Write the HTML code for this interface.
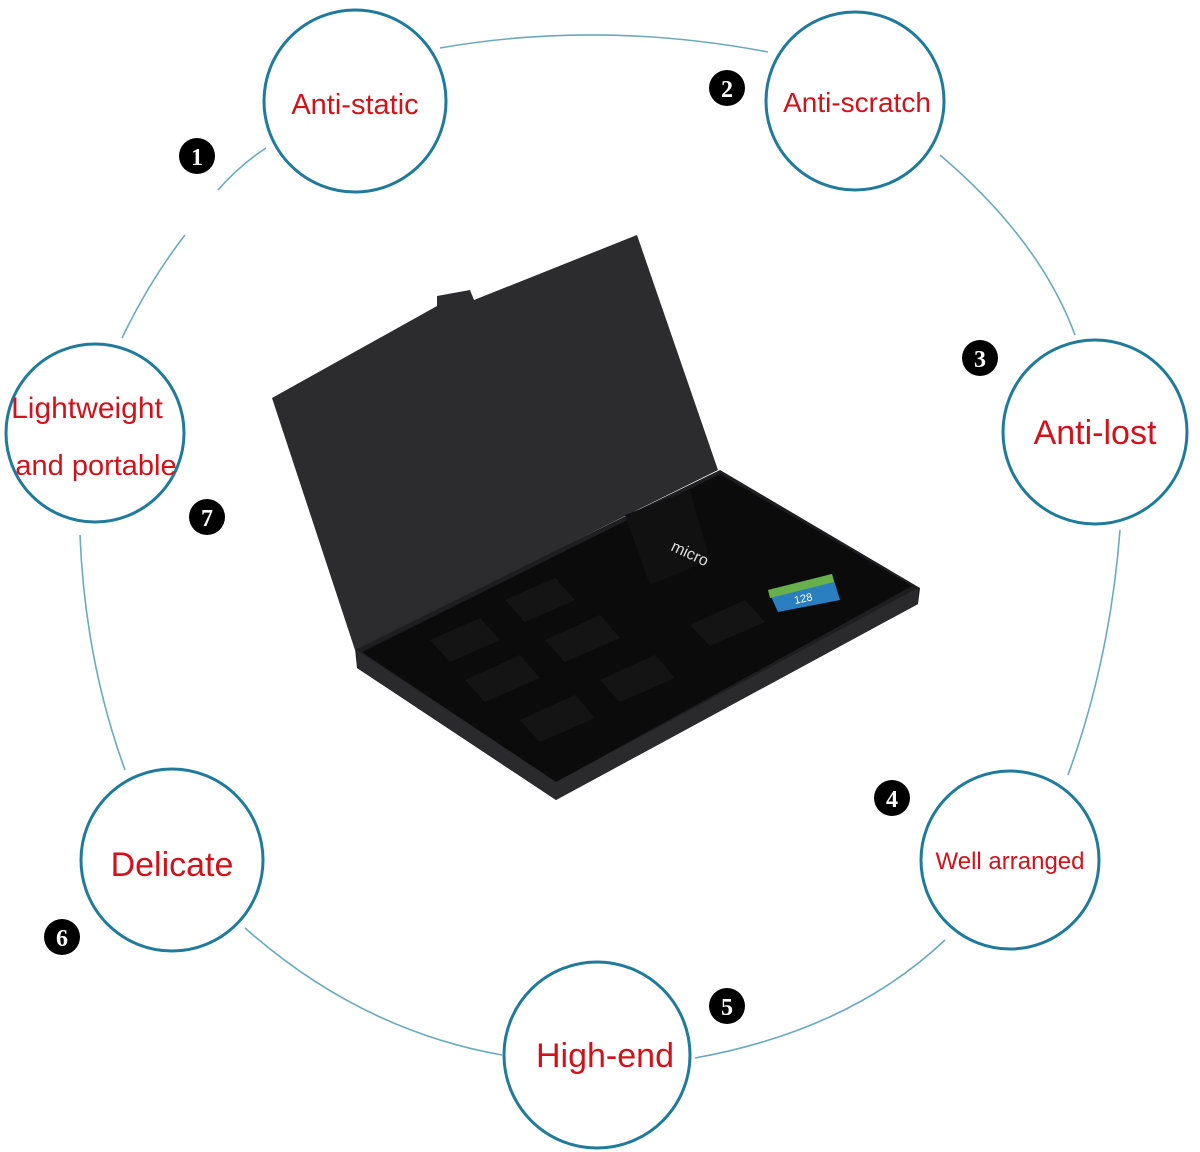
<!DOCTYPE html>
<html><head><style>
html,body{margin:0;padding:0;background:#fff;}
svg{display:block}
text{font-family:"Liberation Sans",sans-serif}
</style></head><body>
<svg width="1200" height="1152" viewBox="0 0 1200 1152" xmlns="http://www.w3.org/2000/svg">
<g fill="none" stroke="#6aaac0" stroke-width="1.6">
<path d="M440,48 Q600,20 768,52"/>
<path d="M940,155 Q1040,240 1075,335"/>
<path d="M1120,530 Q1110,660 1068,775"/>
<path d="M945,940 Q850,1030 695,1058"/>
<path d="M502,1055 Q360,1030 245,928"/>
<path d="M125,770 Q85,660 80,535"/>
<path d="M122,338 Q150,280 185,235"/>
<path d="M218,190 Q240,165 266,148"/>
</g>
<g fill="#fff" stroke="#1f7a9c" stroke-width="3">
<circle cx="355" cy="101" r="91"/>
<circle cx="855" cy="101" r="89"/>
<circle cx="1095" cy="432" r="92"/>
<circle cx="1010" cy="860" r="89"/>
<circle cx="597" cy="1055" r="93"/>
<circle cx="172" cy="860" r="91"/>
<circle cx="95" cy="433" r="89"/>
</g>
<g fill="#d0121b" text-anchor="middle">
<text x="355" y="114" font-size="29">Anti-static</text>
<text x="857" y="112" font-size="28">Anti-scratch</text>
<text x="1095" y="444" font-size="34">Anti-lost</text>
<text x="1010" y="869" font-size="24">Well arranged</text>
<text x="605" y="1067" font-size="34">High-end</text>
<text x="172" y="876" font-size="34">Delicate</text>
<text x="87" y="418" font-size="30">Lightweight</text>
<text x="96" y="475" font-size="29">and portable</text>
</g>
<g>
<circle cx="197" cy="156" r="18" fill="#000"/>
<circle cx="727" cy="88" r="18" fill="#000"/>
<circle cx="980" cy="358" r="18" fill="#000"/>
<circle cx="892" cy="798" r="18" fill="#000"/>
<circle cx="727" cy="1006" r="18" fill="#000"/>
<circle cx="62" cy="937" r="18" fill="#000"/>
<circle cx="207" cy="517" r="18" fill="#000"/>
</g>
<g fill="#fff" font-size="24" font-weight="bold" text-anchor="middle">
<text x="197" y="165" style="font-family:'Liberation Serif',serif">1</text>
<text x="727" y="97" style="font-family:'Liberation Serif',serif">2</text>
<text x="980" y="367" style="font-family:'Liberation Serif',serif">3</text>
<text x="892" y="807" style="font-family:'Liberation Serif',serif">4</text>
<text x="727" y="1015" style="font-family:'Liberation Serif',serif">5</text>
<text x="62" y="946" style="font-family:'Liberation Serif',serif">6</text>
<text x="207" y="526" style="font-family:'Liberation Serif',serif">7</text>
</g>
<!-- case -->
<polygon points="355,648 720,470 920,588 918,604 556,800 357,668" fill="#1e1e20"/>
<polygon points="362,652 720,474 912,586 556,782" fill="#0b0b0c"/>
<g fill="#141415">
<polygon points="430,640 480,618 500,640 450,662"/>
<polygon points="465,680 520,655 540,678 485,702"/>
<polygon points="520,720 575,695 595,718 540,742"/>
<polygon points="505,600 555,578 575,600 525,622"/>
<polygon points="545,640 600,615 620,638 565,662"/>
<polygon points="600,680 655,655 675,678 620,702"/>
<polygon points="690,625 745,600 765,622 710,646"/>
</g>
<polygon points="357,650 556,782 918,588 918,604 556,800 357,668" fill="#2a2a2d"/>
<polygon points="272,398 437,306 437,296 470,290 474,300 637,235 718,470 355,650" fill="#2c2c2f"/>
<polygon points="625,515 690,490 710,560 650,585" fill="#111"/>
<text x="670" y="550" fill="#ddd" font-size="16" transform="rotate(25 670 550)">micro</text>
<polygon points="768,590 832,574 840,600 778,612" fill="#2a7fc0"/>
<polygon points="768,590 832,574 834,582 770,598" fill="#6ab04a"/>
<text x="795" y="604" fill="#fff" font-size="11" transform="rotate(-12 795 604)">128</text>
</svg>
</body></html>
